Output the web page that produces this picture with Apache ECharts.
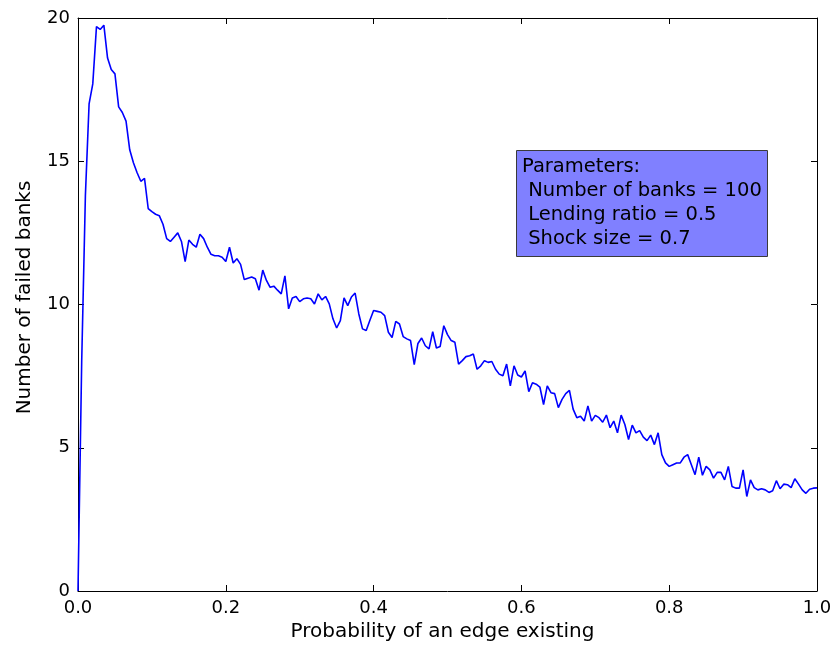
<!DOCTYPE html>
<html>
<head>
<meta charset="utf-8">
<script src="https://cdn.jsdelivr.net/npm/echarts@6/dist/echarts.min.js"></script>
<style>
html,body{margin:0;padding:0;background:#fff;}
#chart{width:835px;height:648px;}
</style>
</head>
<body>
<div id="chart"></div>
<script>
// Edge probability grid (step 0.005)
const probabilities = Array.from({length: 201}, (_, i) => +(i * 0.005).toFixed(3));

// Number of failed banks
const failedBanks = [
  0, 8, 13.8, 17.0, 17.7, 19.7, 19.6, 19.75, 18.6, 18.2,
  18.05, 16.9, 16.7, 16.4, 15.4, 14.95, 14.6, 14.3, 14.4, 13.35,
  13.24, 13.15, 13.1, 12.8, 12.3, 12.2, 12.35, 12.5, 12.2, 11.5,
  12.25, 12.1, 12.0, 12.45, 12.3, 12.0, 11.75, 11.7, 11.7, 11.65,
  11.5, 12.0, 11.45, 11.6, 11.4, 10.87, 10.92, 10.96, 10.9, 10.5,
  11.2, 10.84, 10.6, 10.64, 10.5, 10.37, 11.0, 9.85, 10.23, 10.28,
  10.1, 10.2, 10.23, 10.2, 10.02, 10.37, 10.16, 10.28, 10.02, 9.5,
  9.18, 9.44, 10.23, 9.96, 10.26, 10.4, 9.67, 9.15, 9.09, 9.45,
  9.79, 9.76, 9.73, 9.61, 9.03, 8.85, 9.41, 9.32, 8.88, 8.8,
  8.74, 7.9, 8.64, 8.83, 8.56, 8.45, 9.05, 8.48, 8.53, 9.26,
  8.95, 8.74, 8.68, 7.92, 8.04, 8.18, 8.21, 8.27, 7.74, 7.86,
  8.04, 7.98, 8.01, 7.74, 7.57, 7.51, 7.92, 7.16, 7.86, 7.54,
  7.47, 7.68, 6.96, 7.27, 7.22, 7.12, 6.51, 7.16, 6.92, 6.89,
  6.4, 6.69, 6.89, 7.0, 6.35, 6.05, 6.1, 5.93, 6.46, 5.93,
  6.13, 6.05, 5.89, 6.14, 5.7, 5.93, 5.52, 6.14, 5.81, 5.29,
  5.79, 5.52, 5.6, 5.37, 5.25, 5.44, 5.11, 5.52, 4.76, 4.47,
  4.35, 4.41, 4.47, 4.47, 4.67, 4.76, 4.41, 4.06, 4.67, 4.04,
  4.35, 4.23, 3.94, 4.14, 4.14, 3.88, 4.35, 3.65, 3.59, 3.59,
  4.23, 3.3, 3.88, 3.61, 3.53, 3.57, 3.53, 3.44, 3.5, 3.85,
  3.57, 3.73, 3.71, 3.61, 3.92, 3.73, 3.53, 3.41, 3.55, 3.59,
  3.6
];

const xTicks = [0, 0.2, 0.4, 0.6, 0.8, 1.0];
const yTicks = [0, 5, 10, 15, 20];

const parameterLines = [
  'Parameters:',
  ' Number of banks = 100',
  ' Lending ratio = 0.5',
  ' Shock size = 0.7'
];

const FONT = 'DejaVu Sans';
const chart = echarts.init(document.getElementById('chart'), null, {renderer: 'canvas'});

const axisLine = {show: true, onZero: false, lineStyle: {color: '#000', width: 1}};
const tick = {show: true, inside: true, length: 6, lineStyle: {color: '#000', width: 1}};

chart.setOption({
  animation: false,
  backgroundColor: '#fff',
  textStyle: {fontFamily: FONT},
  title: {
    text: parameterLines.join('\n'),
    left: 516,
    top: 150,
    padding: [5, 6, 6, 6],
    backgroundColor: 'rgba(128,128,255,1)',
    borderColor: '#3a3a3a',
    borderWidth: 1,
    textStyle: {
      fontFamily: FONT,
      fontSize: 19.5,
      fontWeight: 'normal',
      color: '#000',
      lineHeight: 24
    }
  },
  grid: {left: 78, right: 18, top: 18, bottom: 57, containLabel: false},
  xAxis: [{
    type: 'value',
    min: 0, max: 1, interval: 0.2,
    name: 'Probability of an edge existing',
    nameLocation: 'middle',
    nameGap: 28,
    nameTextStyle: {fontFamily: FONT, fontSize: 20, color: '#000', padding: [0, 10, 0, 0]},
    axisLine: axisLine,
    axisTick: tick,
    splitLine: {show: false},
    axisLabel: {
      fontFamily: FONT, fontSize: 18, color: '#000', margin: 8,
      formatter: v => v.toFixed(1)
    }
  }, {
    type: 'value', position: 'top',
    min: 0, max: 1, interval: 0.2,
    axisLine: axisLine, axisTick: tick,
    splitLine: {show: false}, axisLabel: {show: false}
  }],
  yAxis: [{
    type: 'value',
    min: 0, max: 20, interval: 5,
    name: 'Number of failed banks',
    nameLocation: 'middle',
    nameGap: 43,
    nameTextStyle: {fontFamily: FONT, fontSize: 20, color: '#000', padding: [0, 0, 0, 14]},
    axisLine: axisLine,
    axisTick: tick,
    splitLine: {show: false},
    axisLabel: {fontFamily: FONT, fontSize: 18, color: '#000', margin: 8}
  }, {
    type: 'value', position: 'right',
    min: 0, max: 20, interval: 5,
    axisLine: axisLine, axisTick: tick,
    splitLine: {show: false}, axisLabel: {show: false}
  }],
  series: [{
    type: 'line',
    data: probabilities.map((p, i) => [p, failedBanks[i]]),
    showSymbol: false,
    symbol: 'none',
    lineStyle: {color: '#0000ff', width: 1.6},
    clip: true
  }]
});
</script>
</body>
</html>
